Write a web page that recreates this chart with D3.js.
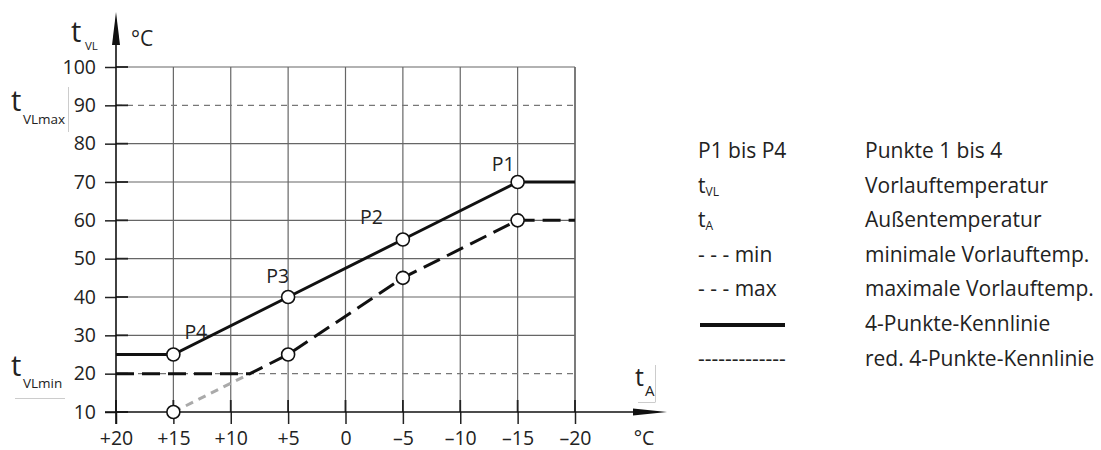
<!DOCTYPE html>
<html>
<head>
<meta charset="utf-8">
<script src="https://cdn.jsdelivr.net/npm/d3@7"></script>
<style>
  body { margin: 0; background: #fff; }
  svg text { font-family: "Open Sans", "Noto Sans", sans-serif; fill: #222; }
</style>
</head>
<body>
<svg id="chart" width="1101" height="450"></svg>
<script>
// outside temperature ticks (°C) and their printed labels
const xTicks = [20, 15, 10, 5, 0, -5, -10, -15, -20];
const xTickLabels = ["+20", "+15", "+10", "+5", "0", "\u20135", "\u201310", "\u201315", "\u201320"];
// flow temperature ticks (°C)
const yTicks = [10, 20, 30, 40, 50, 60, 70, 80, 90, 100];
const yDashed = [20, 90]; // tVLmin / tVLmax

// 4-Punkte-Kennlinie
const curveX = [20, 15, 5, -5, -15, -20];
const curveY = [25, 25, 40, 55, 70, 70];
const curvePoints = ["", "P4", "P3", "P2", "P1", ""];

// red. 4-Punkte-Kennlinie (limited at tVLmin)
const redX = [20, 8.33, 5, -5, -15, -20];
const redY = [20, 20, 25, 45, 60, 60];
const redPointIdx = [2, 3, 4];
// unlimited part below tVLmin
const redLowX = [15, 8.33];
const redLowY = [10, 20];

const legendKeys = ["P1 bis P4", "tVL", "tA", "- - - min", "- - - max", "solid", "-------------"];
const legendTexts = ["Punkte 1 bis 4", "Vorlauftemperatur", "Au\u00dfentemperatur",
    "minimale Vorlauftemp.", "maximale Vorlauftemp.", "4-Punkte-Kennlinie", "red. 4-Punkte-Kennlinie"];

const svg = d3.select("#chart");
const x = d3.scaleLinear().domain([20, -20]).range([116, 575]);
const y = d3.scaleLinear().domain([10, 100]).range([412, 67]);
const x0 = x(20), y0 = y(10);

// grid
const grid = svg.append("g");
grid.selectAll(".vgrid")
    .data(xTicks.slice(1))
    .enter().append("line")
    .attr("x1", d => x(d)).attr("x2", d => x(d))
    .attr("y1", y(100)).attr("y2", y0)
    .attr("stroke", d => d === -20 ? "#222" : "#666")
    .attr("stroke-width", 1.2);
grid.selectAll(".hgrid")
    .data(yTicks.filter(d => d !== 10 && yDashed.indexOf(d) < 0))
    .enter().append("line")
    .attr("x1", x0).attr("x2", x(-20))
    .attr("y1", d => y(d)).attr("y2", d => y(d))
    .attr("stroke", "#666")
    .attr("stroke-width", 1.2);
grid.selectAll(".dgrid")
    .data(yDashed)
    .enter().append("line")
    .attr("x1", x0).attr("x2", x(-20))
    .attr("y1", d => y(d)).attr("y2", d => y(d))
    .attr("stroke", "#777")
    .attr("stroke-width", 1.2)
    .attr("stroke-dasharray", "6,5");

// axes
const yAxis = d3.axisLeft(y).tickValues(yTicks).tickSize(11).tickPadding(9).tickFormat(d3.format("d"));
const yAxisG = svg.append("g").attr("transform", "translate(" + x0 + ",0)").call(yAxis);
yAxisG.select(".domain").remove();
yAxisG.selectAll("line").attr("stroke", "#222").attr("stroke-width", 1.5);
yAxisG.selectAll("text").attr("font-size", 19.5).attr("fill", "#222")
    .attr("font-family", "'Open Sans', sans-serif");

const xAxis = d3.axisBottom(x).tickValues(xTicks).tickSize(12).tickPadding(7.5)
    .tickFormat((d, i) => xTickLabels[i]);
const xAxisG = svg.append("g").attr("transform", "translate(0," + y0 + ")").call(xAxis);
xAxisG.select(".domain").remove();
xAxisG.selectAll("line").attr("stroke", "#222").attr("stroke-width", 1.5);
xAxisG.selectAll("text").attr("font-size", 19.5).attr("fill", "#222")
    .attr("font-family", "'Open Sans', sans-serif");

// short dark tick stubs inside the plot
svg.selectAll(".ystub").data(yTicks).enter().append("line")
    .attr("x1", x0).attr("x2", x0 + 12)
    .attr("y1", d => y(d)).attr("y2", d => y(d))
    .attr("stroke", "#222").attr("stroke-width", 1.8);
svg.selectAll(".xstub").data(xTicks).enter().append("line")
    .attr("x1", d => x(d)).attr("x2", d => x(d))
    .attr("y1", y0 - 12).attr("y2", y0)
    .attr("stroke", "#222").attr("stroke-width", 1.8);

// axis lines with arrows
svg.append("line").attr("x1", x0).attr("x2", x0).attr("y1", y0 + 12).attr("y2", 30)
    .attr("stroke", "#111").attr("stroke-width", 1.6);
svg.append("path").attr("d", `M${x0},12 L${x0 - 4},45 L${x0 + 4},45 Z`).attr("fill", "#111");
svg.append("line").attr("x1", 105).attr("x2", 650).attr("y1", y0).attr("y2", y0)
    .attr("stroke", "#111").attr("stroke-width", 1.6);
svg.append("path").attr("d", `M667,${y0} L633,${y0 - 3.5} L633,${y0 + 3.5} Z`).attr("fill", "#111");

// axis titles
function subLabel(g, tx, ty, tSize, sub, sx, sy, sSize) {
    g.append("text").attr("x", tx).attr("y", ty).attr("font-size", tSize).text("t");
    g.append("text").attr("x", sx).attr("y", sy).attr("font-size", sSize).text(sub);
}
const titles = svg.append("g");
subLabel(titles, 71, 42, 29, "VL", 85, 50, 11.5);
titles.append("text").attr("x", 131).attr("y", 46).attr("font-size", 21).text("\u00b0C");
subLabel(titles, 11, 111, 29, "VLmax", 23, 124, 13.5);
titles.append("line").attr("x1", 68.5).attr("x2", 68.5).attr("y1", 87).attr("y2", 132)
    .attr("stroke", "#ccc");
subLabel(titles, 11, 376, 29, "VLmin", 23, 388, 13.5);
titles.append("line").attr("x1", 15).attr("x2", 65).attr("y1", 398.5).attr("y2", 398.5)
    .attr("stroke", "#ccc");
subLabel(titles, 635, 386, 25, "A", 645, 396, 15);
titles.append("line").attr("x1", 655.5).attr("x2", 655.5).attr("y1", 365).attr("y2", 402)
    .attr("stroke", "#ccc");
titles.append("line").attr("x1", 638).attr("x2", 655.5).attr("y1", 402.5).attr("y2", 402.5)
    .attr("stroke", "#ccc");
titles.append("text").attr("x", 644).attr("y", 445).attr("font-size", 19.5)
    .attr("text-anchor", "middle").text("\u00b0C");

// curves
const line = d3.line().x(d => x(d[0])).y(d => y(d[1]));
svg.append("path").datum(d3.zip(redLowX, redLowY)).attr("d", line)
    .attr("fill", "none").attr("stroke", "#aaa").attr("stroke-width", 3)
    .attr("stroke-dasharray", "8,6");
svg.append("path").datum(d3.zip(redX, redY)).attr("d", line)
    .attr("fill", "none").attr("stroke", "#111").attr("stroke-width", 3)
    .attr("stroke-dasharray", "18,8");
svg.append("path").datum(d3.zip(curveX, curveY)).attr("d", line)
    .attr("fill", "none").attr("stroke", "#111").attr("stroke-width", 3);

// points
const pts = [];
curvePoints.forEach((p, i) => { if (p) pts.push([curveX[i], curveY[i]]); });
redPointIdx.forEach(i => pts.push([redX[i], redY[i]]));
pts.push([redLowX[0], redLowY[0]]);
svg.selectAll(".pt").data(pts).enter().append("circle")
    .attr("cx", d => x(d[0])).attr("cy", d => y(d[1])).attr("r", 6.5)
    .attr("fill", "#fff").attr("stroke", "#111").attr("stroke-width", 1.6);

// point labels, placed beside each point
const labelPlace = {
    P1: {dx: -3, dy: -11, anchor: "end"},
    P2: {dx: -20, dy: -16, anchor: "end"},
    P3: {dx: 1, dy: -14, anchor: "end"},
    P4: {dx: 11, dy: -16, anchor: "start"}
};
curvePoints.forEach((p, i) => {
    if (!p) return;
    const pl = labelPlace[p];
    svg.append("text")
        .attr("x", x(curveX[i]) + pl.dx)
        .attr("y", y(curveY[i]) + pl.dy)
        .attr("text-anchor", pl.anchor)
        .attr("font-size", 19.5)
        .text(p);
});

// legend
const legend = svg.append("g");
const rowY = i => 158 + i * 34.6;
legendKeys.forEach((k, i) => {
    if (k === "solid") {
        legend.append("line").attr("x1", 700).attr("x2", 785).attr("y1", rowY(i) - 6).attr("y2", rowY(i) - 6)
            .attr("stroke", "#111").attr("stroke-width", 4);
    } else if (k === "tVL" || k === "tA") {
        const t = legend.append("text").attr("x", 698).attr("y", rowY(i)).attr("font-size", 21);
        t.append("tspan").text("t");
        t.append("tspan").attr("font-size", 12).attr("dy", 3).text(k.slice(1));
    } else {
        legend.append("text").attr("x", 698).attr("y", rowY(i)).attr("font-size", 21).text(k);
    }
    legend.append("text").attr("x", 865).attr("y", rowY(i)).attr("font-size", 21).text(legendTexts[i]);
});
</script>
</body>
</html>
